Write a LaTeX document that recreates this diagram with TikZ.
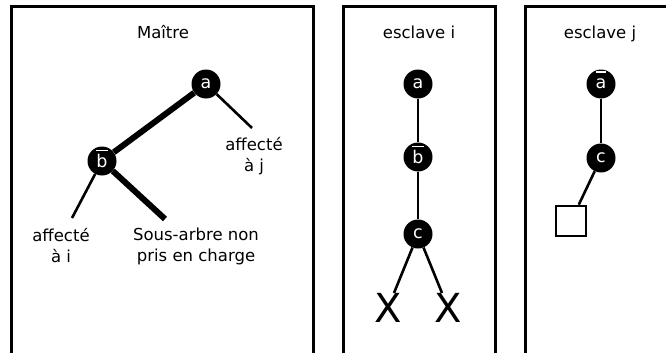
\documentclass[tikz,border=0pt]{standalone}
\usepackage{fontspec}
\setmainfont{DejaVu Sans}
\newcommand{\ovl}[1]{\setbox0\hbox{#1}\rlap{\raisebox{0.93em}[0pt][0pt]{\rule{\wd0}{1.3pt}}}\box0}
\tikzset{
  panel/.style={line width=3pt},
  vertex/.style={circle, fill=black, text=white, minimum size=29pt, inner sep=0pt, font=\fontsize{17.5}{19}\selectfont},
  thinedge/.style={line width=2.6pt},
  thickedge/.style={line width=6pt},
  lbl/.style={align=center, inner sep=0pt, font=\fontsize{16.5}{21}\selectfont},
  ttl/.style={anchor=base, inner sep=0pt, font=\fontsize{16.5}{21}\selectfont},
  cross/.style={anchor=north, inner sep=0pt, font=\fontsize{40}{40}\selectfont},
  leaf/.style={draw, line width=2.6pt, minimum size=30pt, inner sep=0pt}
}
\begin{document}
\begin{tikzpicture}[x=1pt,y=-1pt]
\useasboundingbox (0,0) rectangle (666,353);
% panels
\draw[panel] (11,370) -- (11,7) -- (313,7) -- (313,370);
\draw[panel] (343,370) -- (343,7) -- (495,7) -- (495,370);
\draw[panel] (525,370) -- (525,7) -- (680,7);
% titles
\node[ttl] (t1) at (163,38) {Maître};
\node[ttl] (t2) at (419,38) {esclave i};
\node[ttl] (t3) at (600,38) {esclave j};
% master tree
\node[vertex] (ma) at (206,84) {a};
\node[vertex] (mb) at (102,161) {\ovl{b}};
\coordinate (mj) at (252,128);
\coordinate (mi) at (72,218);
\coordinate (ms) at (165,219);
\node[lbl] (lj) at (254,156) {affecté\\à j};
\node[lbl] (li) at (61,246) {affecté\\à i};
\node[lbl] (ls) at (196,246) {Sous-arbre non\\pris en charge};
\draw[thickedge] (ma) -- (mb);
\draw[thinedge] (ma) -- (mj);
\draw[thinedge] (mb) -- (mi);
\draw[thickedge] (mb) -- (ms);
% slave i
\node[vertex] (ia) at (418,84) {a};
\node[vertex] (ib) at (418,157) {\ovl{b}};
\node[vertex] (ic) at (418,234) {c};
\node[cross] (x1) at (388,293) {X};
\node[cross] (x2) at (448,293) {X};
\draw[thinedge] (ia) -- (ib);
\draw[thinedge] (ib) -- (ic);
\draw[thinedge] (ic) -- (x1);
\draw[thinedge] (ic) -- (x2);
% slave j
\node[vertex] (ja) at (601,84) {\ovl{a}};
\node[vertex] (jc) at (601,158) {c};
\node[leaf] (jsq) at (571,221) {};
\draw[thinedge] (ja) -- (jc);
\draw[thinedge] (jc) -- (jsq);
\end{tikzpicture}
\end{document}
